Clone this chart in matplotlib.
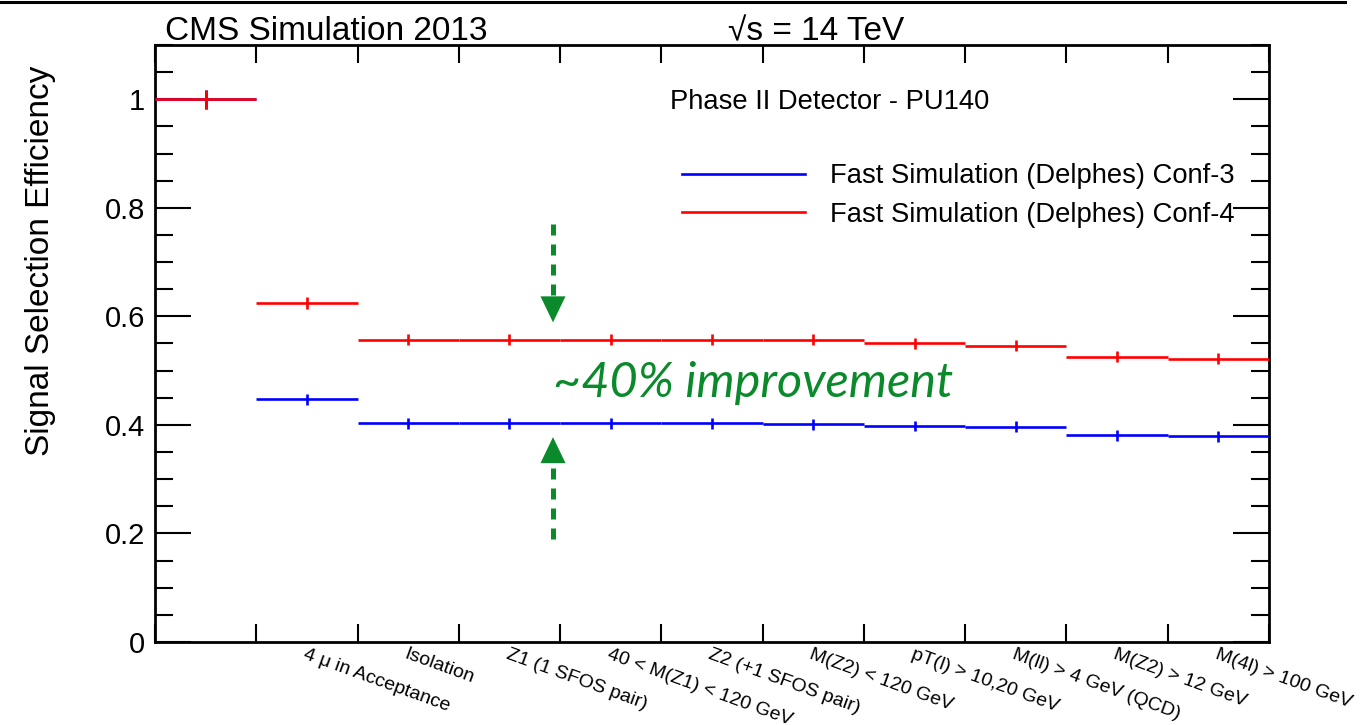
import matplotlib
matplotlib.use("Agg")
import matplotlib.pyplot as plt
from matplotlib.lines import Line2D
from matplotlib.ticker import MultipleLocator, FixedLocator, FuncFormatter
import numpy as np

# ---------------- data ----------------
cut_labels = ["", "4 \u03bc in Acceptance", "Isolation", "Z1 (1 SFOS pair)",
              "40 < M(Z1) < 120 GeV", "Z2 (+1 SFOS pair)", "M(Z2) < 120 GeV",
              "pT(l) > 10,20 GeV", "M(ll) > 4 GeV (QCD)", "M(Z2) > 12 GeV",
              "M(4l) > 100 GeV"]
eff_conf3 = [1.0, 0.447, 0.403, 0.403, 0.403, 0.403, 0.401, 0.398, 0.397, 0.381, 0.379]
err_conf3 = [0.018, 0.010, 0.010, 0.010, 0.010, 0.010, 0.010, 0.010, 0.010, 0.010, 0.010]
eff_conf4 = [1.0, 0.624, 0.557, 0.557, 0.557, 0.557, 0.557, 0.550, 0.546, 0.526, 0.522]
err_conf4 = [0.018, 0.011, 0.010, 0.010, 0.010, 0.010, 0.010, 0.010, 0.010, 0.010, 0.010]
series_names = ["Fast Simulation (Delphes) Conf-3", "Fast Simulation (Delphes) Conf-4"]
yticks_major = [0, 0.2, 0.4, 0.6, 0.8, 1.0]

# annotation positions (data units)
arrow_x = 3.93
arrow_top = (0.770, 0.637, 0.589)      # tail, head base, tip
arrow_bottom = (0.190, 0.3315, 0.3775)
note_text = "~40% improvement"
note_xy = (3.93, 0.451)

GREEN = "#0b8a2c"
FONT = ["Liberation Sans", "DejaVu Sans"]
plt.rcParams["font.family"] = FONT

W, H = 1370, 725
fig = plt.figure(figsize=(W / 100, H / 100), dpi=100)
ax = fig.add_axes([155 / W, (H - 642) / H, 1114 / W, 597 / H])

n = len(cut_labels)
centers = np.arange(n) + 0.5

ax.errorbar(centers, eff_conf3, xerr=0.5, yerr=err_conf3, fmt="none",
            ecolor="#0000ff", elinewidth=1.9, capsize=0, zorder=3)
ax.errorbar(centers, eff_conf4, xerr=0.5, yerr=err_conf4, fmt="none",
            ecolor="#ff0000", elinewidth=1.9, capsize=0, zorder=4)

ax.set_xlim(0, n)
ax.set_ylim(0, 1.1)

# y axis
ax.yaxis.set_major_locator(FixedLocator(yticks_major))
ax.yaxis.set_minor_locator(MultipleLocator(0.05))
ax.yaxis.set_major_formatter(FuncFormatter(lambda v, p: "%g" % v))
ax.tick_params(axis="y", which="major", direction="in", length=26, width=1.5,
               labelsize=21, pad=7, right=True, left=True)
ax.tick_params(axis="y", which="minor", direction="in", length=13, width=1.5,
               right=True, left=True)

# x axis: ticks at bin edges, labels at bin centres
ax.set_xticks(np.arange(n + 1))
ax.tick_params(axis="x", which="major", direction="in", length=13, width=1.5,
               top=True, bottom=True, labelbottom=False)
ax.set_xticks(centers, labels=cut_labels, minor=True)
ax.tick_params(axis="x", which="minor", length=0, labelsize=14, pad=3)
for lbl in ax.get_xticklabels(minor=True):
    lbl.set_rotation(-20)
    lbl.set_ha("left")
    lbl.set_va("top")
    lbl.set_rotation_mode("anchor")

for sp in ax.spines.values():
    sp.set_linewidth(2.0)

ax.set_ylabel("Signal Selection Efficiency", fontsize=24)
ax.yaxis.label.set_rotation_mode("anchor")
ax.yaxis.label.set_ha("center")
ax.yaxis.label.set_va("center")
ax.yaxis.set_label_coords(-0.1032, 0.638)

# header texts
ax.text(0.009, 1.0084, "CMS Simulation 2013", transform=ax.transAxes,
        fontsize=24, ha="left", va="baseline")
ax.text(0.5144, 1.0084, "\u221as = 14 TeV", transform=ax.transAxes,
        fontsize=24, ha="left", va="baseline")
ax.text(0.4623, 0.9045, "Phase II Detector - PU140", transform=ax.transAxes,
        fontsize=19.7, ha="left", va="center")

# legend
handles = [Line2D([], [], color="#0000ff", lw=1.9),
           Line2D([], [], color="#ff0000", lw=1.9)]
ax.legend(handles, series_names, loc="center left",
          bbox_to_anchor=(0.4731, 0.7479), frameon=False, fontsize=19.7,
          borderpad=0, borderaxespad=0, handlelength=4.49, handletextpad=0.91,
          labelspacing=0.45)

# green annotation arrows
for tail, base, tip in (arrow_top, arrow_bottom):
    ax.plot([arrow_x, arrow_x], [tail, base], color=GREEN, lw=3.6,
            linestyle=(0, (2.2, 1.8)), solid_capstyle="butt", zorder=5)
    ax.annotate("", xy=(arrow_x, tip), xytext=(arrow_x, base),
                arrowprops=dict(arrowstyle="-|>,head_length=1.87,head_width=0.9",
                                color=GREEN, lw=0.01, shrinkA=0, shrinkB=0,
                                mutation_scale=10), zorder=5)

ax.text(note_xy[0], note_xy[1], note_text, color=GREEN, fontsize=35,
        family=["Lato", "DejaVu Sans"], style="italic", ha="left",
        va="baseline", zorder=6)

# slide border at the very top
fig.add_artist(Line2D([0, 1345 / W], [1 - 1.5 / H, 1 - 1.5 / H],
                      transform=fig.transFigure, color="black", lw=2.2))

fig.savefig("out.png", dpi=100)
